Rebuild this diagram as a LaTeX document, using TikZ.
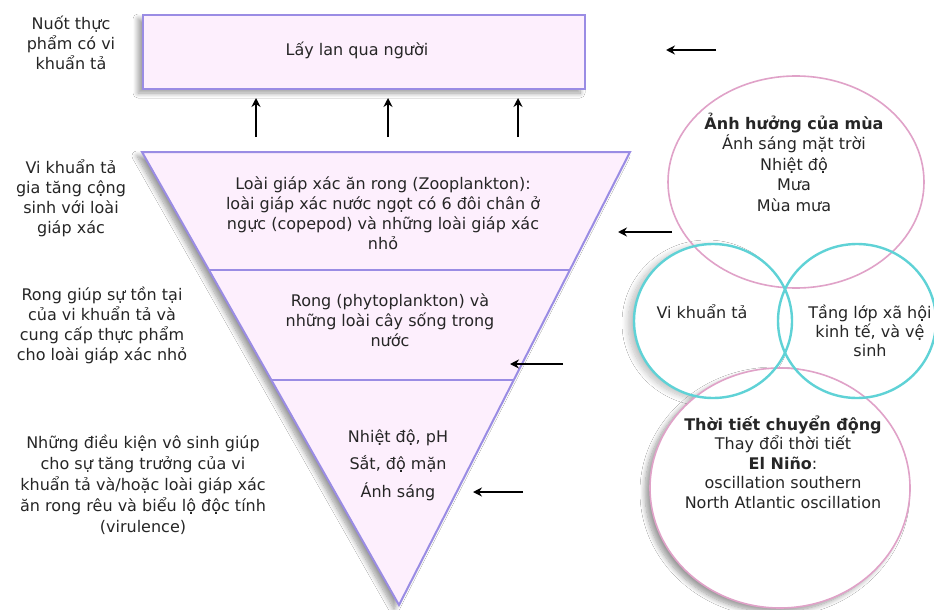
\documentclass[tikz,border=0pt]{standalone}
\usepackage{fontspec}
\setmainfont{DejaVu Sans}
\usetikzlibrary{arrows.meta,shadows.blur}

\definecolor{boxline}{HTML}{9A8CE4}
\definecolor{boxfill}{HTML}{FDEFFD}
\definecolor{pinkline}{HTML}{E0A2C8}
\definecolor{cyanline}{HTML}{5FD2D6}

\begin{document}
\begin{tikzpicture}[x=1pt,y=-1pt,
  txt/.style={align=center, inner sep=0pt, text=black!85,
    font=\fontsize{16}{20}\selectfont},
  arr/.style={line width=2.6pt, -{Stealth[length=9pt,width=9pt]}},
  layer/.style={draw=boxline, line width=2pt, fill=boxfill},
  soft/.style={blur shadow={shadow xshift=-5pt, shadow yshift=-4pt,
      shadow blur radius=5pt, shadow blur steps=10, shadow opacity=40}},
  ring/.style={line width=1.6pt}
]
\useasboundingbox[fill=white] (0,0) rectangle (934,610);

% ---- top box ----
\node[layer, soft, minimum width=442pt, minimum height=74pt, inner sep=0pt]
  (spread) at (364,52) {};
\node[txt] (spreadtxt) at (357,50) {Lấy lan qua người};

% ---- inverted triangle ----
\coordinate (tl) at (142,152);
\coordinate (tr) at (630,152);
\coordinate (tip) at (399,605);
\draw[layer, soft] (tl) -- (tr) -- (tip) -- cycle;
\coordinate (d1l) at (209,270); \coordinate (d1r) at (570,270);
\coordinate (d2l) at (272,380); \coordinate (d2r) at (514,380);
\draw[draw=boxline, line width=2pt] (d1l) -- (d1r);
\draw[draw=boxline, line width=2pt] (d2l) -- (d2r);

\node[txt] (zoo) at (383,213) {Loài giáp xác ăn rong (Zooplankton):\\
  loài giáp xác nước ngọt có 6 đôi chân ở\\
  ngực (copepod) và những loài giáp xác\\ nhỏ};
\node[txt] (phyto) at (390,320) {Rong (phytoplankton) và\\
  những loài cây sống trong\\ nước};
\node[txt, font=\fontsize{16}{27.5}\selectfont] (abio) at (398,465)
  {Nhiệt độ, pH\\ Sắt, độ mặn\\ Ánh sáng};

% ---- left notes ----
\node[txt] (n1) at (71,43)
  {Nuốt thực\\ phẩm có vi\\ khuẩn tả};
\node[txt] (n2) at (71,198)
  {Vi khuẩn tả\\ gia tăng cộng\\ sinh với loài\\ giáp xác};
\node[txt] (n3) at (102,325)
  {Rong giúp sự tồn tại\\ của vi khuẩn tả và\\ cung cấp thực phẩm\\ cho loài giáp xác nhỏ};
\node[txt, font=\fontsize{16}{21}\selectfont] (n4) at (143,485)
  {Những điều kiện vô sinh giúp\\ cho sự tăng trưởng của vi\\
   khuẩn tả và/hoặc loài giáp xác\\ ăn rong rêu và biểu lộ độc tính\\ (virulence)};

% ---- upward arrows ----
\foreach \i/\x in {1/256,2/388,3/518}{
  \coordinate (up\i a) at (\x,137);
  \coordinate (up\i b) at (\x,98);
  \draw[arr] (up\i a) -- (up\i b);
}

% ---- leftward arrows ----
\coordinate (la1) at (716,50);  \coordinate (lb1) at (666,50);
\coordinate (la2) at (672,232); \coordinate (lb2) at (618,232);
\coordinate (la3) at (563,364); \coordinate (lb3) at (510,364);
\coordinate (la4) at (523,492); \coordinate (lb4) at (473,492);
\foreach \i in {1,...,4}{ \draw[arr] (la\i) -- (lb\i); }

% ---- circles: backgrounds with shadows ----
\coordinate (cseason) at (796,182);
\coordinate (cvib) at (713,321);
\coordinate (csoc) at (857,321);
\coordinate (cweather) at (780,488);
\path[fill=white] (cseason) ellipse [x radius=128pt, y radius=106pt];
\path[fill=white, blur shadow={shadow xshift=-6pt, shadow yshift=-2pt,
   shadow blur radius=6pt, shadow blur steps=10, shadow opacity=25}]
   (cvib) ellipse [x radius=79pt, y radius=77pt];
\path[fill=white] (csoc) ellipse [x radius=79pt, y radius=77pt];
\path[fill=white, soft] (cweather) ellipse [x radius=130pt, y radius=120pt];

% ---- circle outlines ----
\draw[ring, pinkline] (cseason) ellipse [x radius=128pt, y radius=106pt];
\draw[ring, pinkline] (cweather) ellipse [x radius=130pt, y radius=120pt];
\draw[ring, cyanline, line width=2.4pt] (cvib) ellipse [x radius=79pt, y radius=77pt];
\draw[ring, cyanline, line width=2.4pt] (csoc) ellipse [x radius=79pt, y radius=77pt];

% ---- circle texts ----
\node[txt, font=\fontsize{16}{20.5}\selectfont] (season) at (794,162)
  {\textbf{Ảnh hưởng của mùa}\\ Ánh sáng mặt trời\\ Nhiệt độ\\ Mưa\\ Mùa mưa};
\node[txt] (vib) at (702,312) {Vi khuẩn tả};
\node[txt, font=\fontsize{16}{19}\selectfont] (soc) at (870,331)
  {Tầng lớp xã hội\\ kinh tế, và vệ\\ sinh};
\node[txt, font=\fontsize{16}{19.5}\selectfont] (weather) at (783,462)
  {\textbf{Thời tiết chuyển động}\\ Thay đổi thời tiết\\ \textbf{El Niño}:\\
   oscillation southern\\ North Atlantic oscillation};
\end{tikzpicture}
\end{document}
